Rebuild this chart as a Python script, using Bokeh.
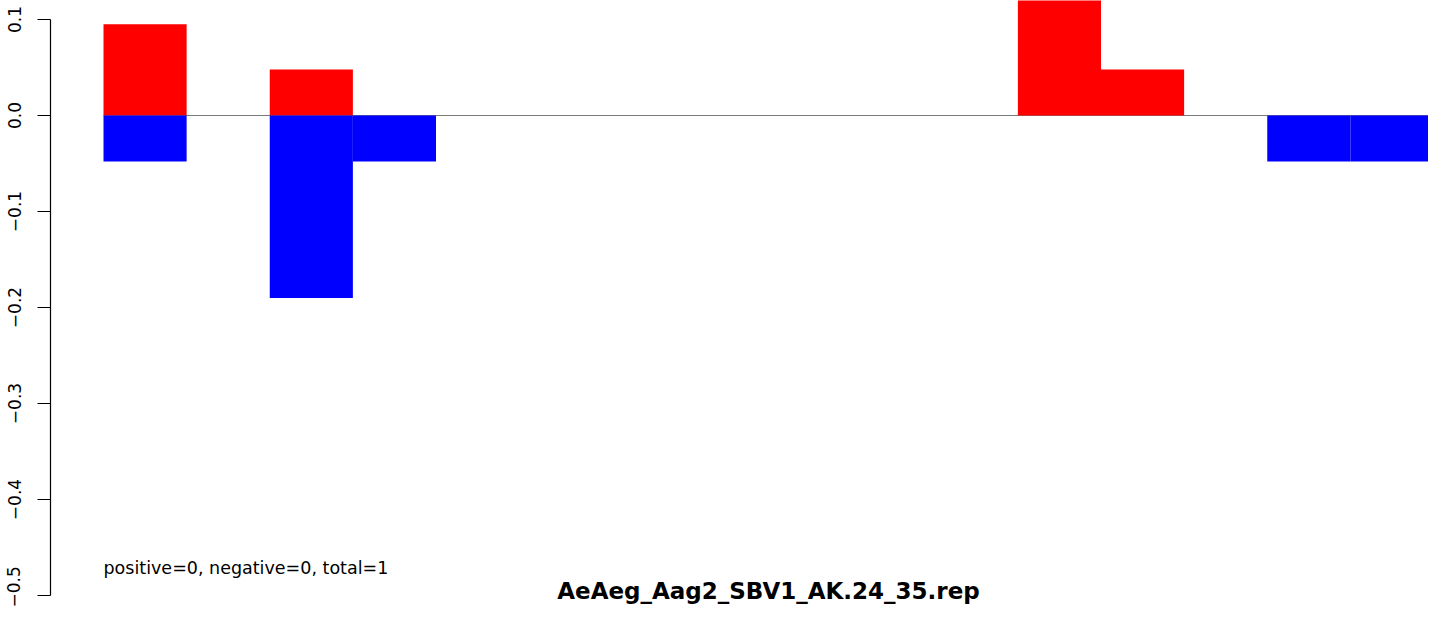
from bokeh.plotting import figure
from bokeh.models import Range1d, FixedTicker
from bokeh.core.properties import value
from bokeh.embed import file_html
from bokeh.resources import INLINE

# ---- data ----
bins = list(range(16))
positive_vals = [0.095, 0, 0.048, 0, 0, 0, 0, 0, 0, 0, 0, 0.143, 0.048, 0, 0, 0]
negative_vals = [-0.048, 0, -0.19, -0.048, 0, 0, 0, 0, 0, 0, 0, 0, 0, 0, -0.048, -0.048]
y_ticks = [-0.5, -0.4, -0.3, -0.2, -0.1, 0.0, 0.1]
y_tick_labels = ["\u22120.5", "\u22120.4", "\u22120.3", "\u22120.2", "\u22120.1", "0.0", "0.1"]
title_text = "AeAeg_Aag2_SBV1_AK.24_35.rep"
note_text = "positive=0, negative=0, total=1"

# ---- layout constants (pixels) ----
W, H = 1428, 607
x_px = 83.125          # px per bin
y_px = 960.0           # px per unit
x0 = 103               # x of bin 0 left edge
y0 = 115               # y of zero
frame_left = 50

p = figure(width=W, height=H, output_backend="svg", toolbar_location=None,
           x_axis_location=None, min_border_left=frame_left,
           min_border_right=0, min_border_top=0, min_border_bottom=0,
           x_range=Range1d(-(x0 - frame_left) / x_px, (W - x0) / x_px),
           y_range=Range1d(-(H - y0) / y_px, y0 / y_px))
p.outline_line_color = None
p.xgrid.visible = False
p.ygrid.visible = False
p.background_fill_color = "white"
p.border_fill_color = "white"

# zero line
p.segment(x0=[0], y0=[0], x1=[len(bins)], y1=[0], line_color="#7a7a7a", line_width=1)

left = [b for b in bins]
right = [b + 1 for b in bins]
p.quad(left=left, right=right, bottom=[0] * len(bins), top=positive_vals,
       fill_color="#FF0000", line_color=None)
p.quad(left=left, right=right, bottom=negative_vals, top=[0] * len(bins),
       fill_color="#0000FF", line_color=None)

# annotation text
p.text(x=[0], y=[-(567 - y0) / y_px], text=[note_text],
       text_font=value("DejaVu Sans"), text_font_size="17.5px",
       text_align="left", text_baseline="middle", text_color="black")

# title at bottom
p.text(x=[len(bins) / 2], y=[-(590 - y0) / y_px], text=[title_text],
       text_font=value("DejaVu Sans"), text_font_size="23px", text_font_style="bold",
       text_align="center", text_baseline="middle", text_color="black")

ax = p.yaxis[0]
ax.ticker = FixedTicker(ticks=y_ticks)
ax.major_label_overrides = {t: l for t, l in zip(y_ticks, y_tick_labels)}
ax.bounds = (-0.5, 0.1)
ax.minor_tick_line_color = None
ax.major_tick_in = 0
ax.major_tick_out = 13
ax.major_label_standoff = 17
ax.major_label_orientation = "vertical"
ax.major_label_text_font = "DejaVu Sans"
ax.major_label_text_font_size = "17px"
ax.major_label_text_color = "black"
ax.axis_line_color = "black"
ax.major_tick_line_color = "black"
ax.axis_line_width = 1.2
ax.major_tick_line_width = 1.2

open("out.html", "w").write(file_html(p, INLINE))
